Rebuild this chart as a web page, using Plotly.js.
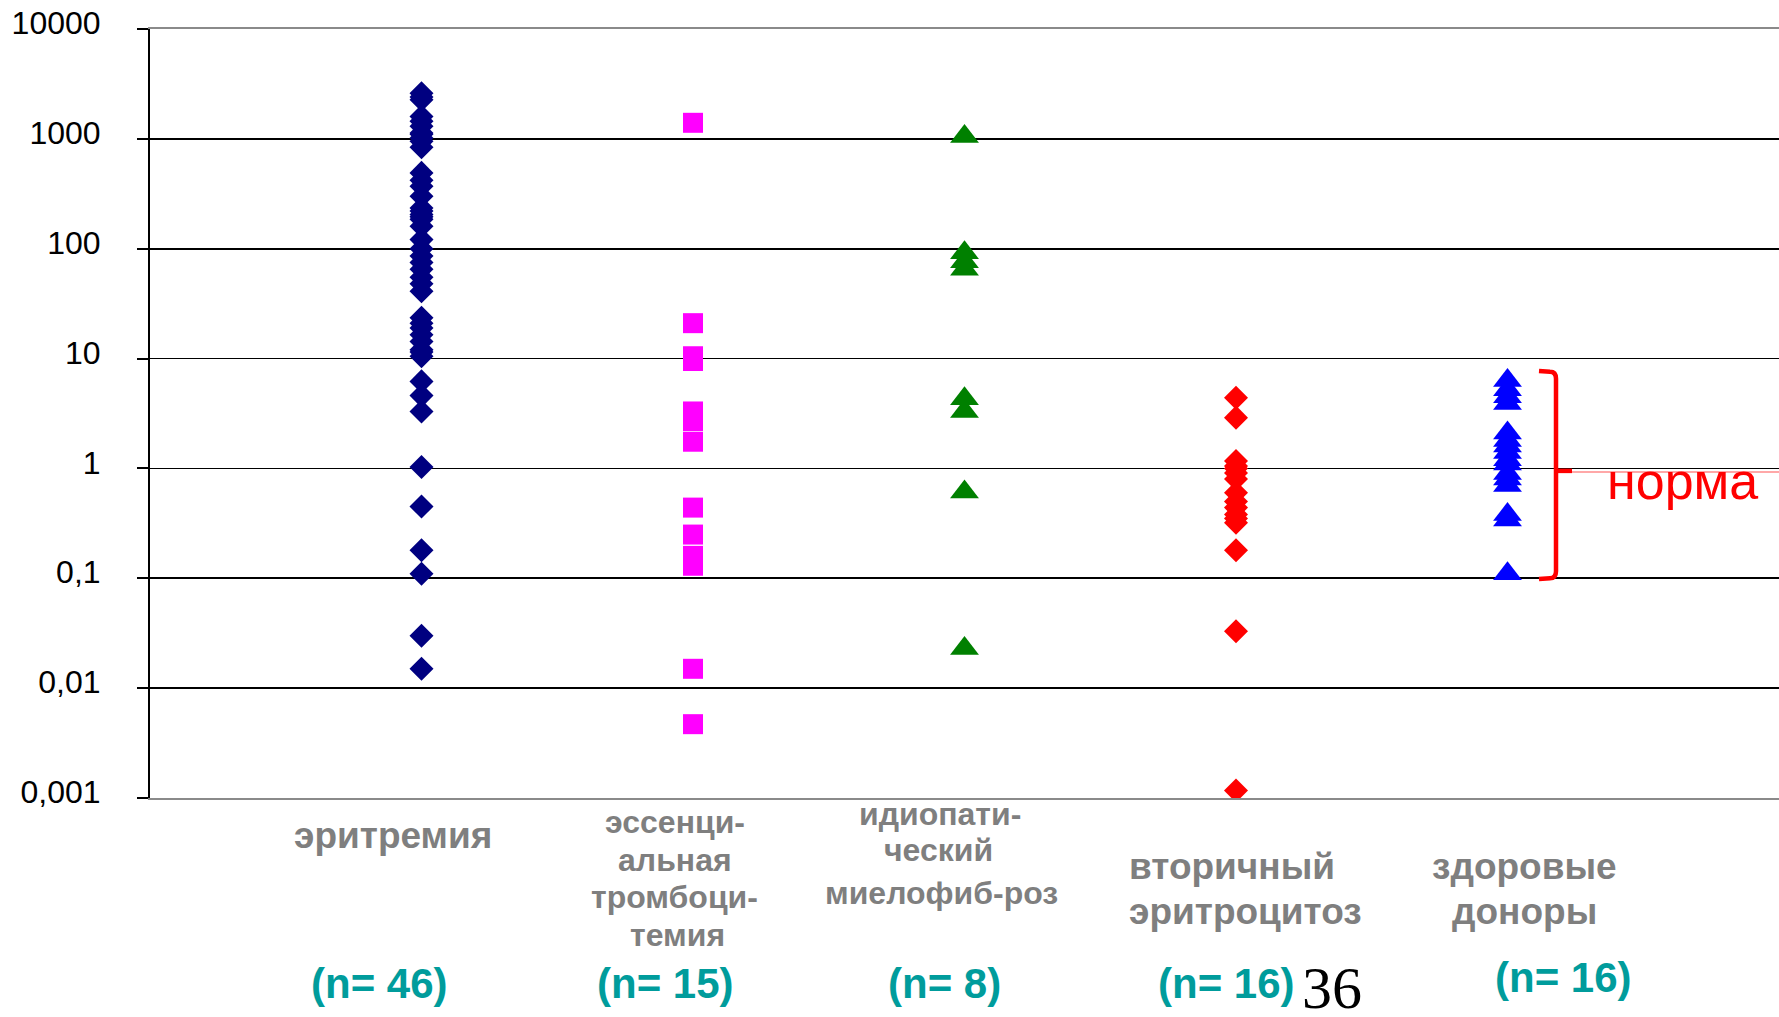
<!DOCTYPE html>
<html>
<head>
<meta charset="utf-8">
<script src="https://cdn.plot.ly/plotly-3.0.1.min.js"></script>
<style>html,body{margin:0;padding:0;background:#fff;}#chart{width:1779px;height:1017px;}</style>
</head>
<body>
<div id="chart"></div>
<script>
// ---------- DATA ----------
const categories = ["эритремия", "эссенциальная тромбоцитемия", "идиопатический миелофиброз", "вторичный эритроцитоз", "здоровые доноры"];
const erythremia = [2600, 2400, 2270, 1600, 1450, 1300, 1130, 1100, 1020, 950, 840, 490, 420, 370, 300, 235, 220, 205, 195, 185, 160, 121, 100, 86, 75, 65, 55, 48, 41, 23.5, 21, 19, 16.5, 14.3, 12, 11.5, 10.5, 6.2, 4.6, 3.3, 1.03, 0.45, 0.18, 0.11, 0.03, 0.015];
const thrombocythemia = [1400, 21, 10.5, 9.5, 3.3, 3.0, 2.7, 1.75, 0.44, 0.25, 0.16, 0.14, 0.13, 0.015, 0.0047];
const myelofibrosis = [1050, 92, 76, 65, 4.3, 3.3, 0.61, 0.023];
const secondaryErythrocytosis = [4.4, 2.9, 1.17, 1.05, 1.0, 0.91, 0.8, 0.6, 0.5, 0.44, 0.38, 0.35, 0.32, 0.18, 0.033, 0.00117];
const healthyDonors = [6.3, 5.2, 4.5, 3.9, 2.1, 1.8, 1.6, 1.4, 1.2, 1.1, 0.9, 0.8, 0.7, 0.38, 0.34, 0.11];
const tickVals = [0.001, 0.01, 0.1, 1, 10, 100, 1000, 10000];
const tickText = ["0,001", "0,01", "0,1", "1", "10", "100", "1000", "10000"];
const labelLines = [["эритремия"], ["эссенци-", "альная", "тромбоци-", "темия"], ["идиопати-", "ческий", "миелофиб-роз"], ["вторичный", "эритроцитоз"], ["здоровые", "доноры"]];
const nLabels = ["(n= 46)", "(n= 15)", "(n= 8)", "(n= 16)", "(n= 16)"];
const normRange = [0.1, 7.6];
const normMid = 0.95;
const normText = "норма";
const pageNumber = "36";

// ---------- LAYOUT GEOMETRY ----------
const W = 1779, H = 1017;
const M = {l: 150, r: 0, t: 29, b: 219};
const plotW = W - M.l - M.r, plotH = H - M.t - M.b;
const px2paperX = p => (p - M.l) / plotW;
const px2paperY = p => (H - M.b - p) / plotH;
const yRange = [-3, 4];
const val2paperY = v => (Math.log10(v) - yRange[0]) / (yRange[1] - yRange[0]);

const seriesList = [
  {y: erythremia, color: "#000080", symbol: "diamond", size: 18.5},
  {y: thrombocythemia, color: "#FF00FF", symbol: "square", size: 20},
  {y: myelofibrosis, color: "#008000", symbol: "triangle-up", size: 25},
  {y: secondaryErythrocytosis, color: "#FF0000", symbol: "diamond", size: 18.5},
  {y: healthyDonors, color: "#0000FF", symbol: "triangle-up", size: 25}
];

const traces = seriesList.map((s, i) => ({
  type: "scatter",
  mode: "markers",
  name: categories[i],
  x: s.y.map(() => i + 1),
  y: s.y,
  marker: {color: s.color, symbol: s.symbol, size: s.size, line: {width: 0}},
  hoverinfo: "skip",
  showlegend: false
}));

// label positions (pixels) per category line
const labelPos = [
  {x: [393], y: [838], size: 37},
  {x: [675, 675, 674, 677], y: [825, 863, 900, 938], size: 32},
  {x: [940, 938, 941], y: [817, 853, 896], size: 32},
  {x: [1127, 1127], y: [870, 914], left: true, size: 37},
  {x: [1524, 1524], y: [870, 915], size: 37}
];
const nPos = {x: [379, 665, 944, 1226, 1563], y: [983, 983, 983, 983, 977]};

const annotations = [];
labelLines.forEach((lines, i) => {
  lines.forEach((t, j) => {
    const lp = labelPos[i];
    annotations.push({
      text: t, showarrow: false, xref: "paper", yref: "paper",
      x: px2paperX(lp.x[j]), y: px2paperY(lp.y[j] - 3),
      xanchor: lp.left ? "left" : "center", yanchor: "middle",
      font: {family: "Liberation Sans, Arial, sans-serif", size: lp.size, color: "#7f7f7f", weight: "bold"}
    });
  });
});
nLabels.forEach((t, i) => {
  annotations.push({
    text: t, showarrow: false, xref: "paper", yref: "paper",
    x: px2paperX(nPos.x[i]), y: px2paperY(nPos.y[i]),
    xanchor: "center", yanchor: "middle",
    font: {family: "Liberation Sans, Arial, sans-serif", size: 42, color: "#009C9C", weight: "bold"}
  });
});
annotations.push({
  text: normText, showarrow: false, xref: "paper", yref: "paper",
  x: px2paperX(1682), y: val2paperY(normMid) - 10 / plotH,
  xanchor: "center", yanchor: "middle",
  font: {family: "Liberation Sans, Arial, sans-serif", size: 52, color: "#FF0000"}
});
annotations.push({
  text: pageNumber, showarrow: false, xref: "paper", yref: "paper",
  x: px2paperX(1332), y: px2paperY(988),
  xanchor: "center", yanchor: "middle",
  font: {family: "Liberation Serif, Times New Roman, serif", size: 60, color: "#000000"}
});

// bracket
const bx = px2paperX(1556), bxl = px2paperX(1539), bxc = px2paperX(1550);
const yTop = val2paperY(normRange[1]), yBot = val2paperY(normRange[0]);
const dy = 7 / plotH;
const bracketPath = `M ${bxl},${yTop + 0.001} L ${bxc},${yTop} Q ${bx},${yTop} ${bx},${yTop - dy} L ${bx},${yBot + dy} Q ${bx},${yBot} ${bxc},${yBot} L ${bxl},${yBot - 0.001}`;
const yMid = val2paperY(normMid);
const shapes = [
  {type: "path", xref: "paper", yref: "paper", path: bracketPath, line: {color: "#FF0000", width: 4.5}},
  {type: "line", xref: "paper", yref: "paper", x0: bx, x1: px2paperX(1572), y0: yMid, y1: yMid, line: {color: "#FF0000", width: 4.5}},
  {type: "line", xref: "paper", yref: "paper", x0: px2paperX(1572), x1: 1, y0: yMid - 1 / plotH, y1: yMid - 1 / plotH, line: {color: "rgba(255,60,60,0.6)", width: 1.5}}
];

const layout = {
  width: W, height: H,
  margin: {l: M.l, r: M.r, t: M.t, b: M.b, pad: 0},
  paper_bgcolor: "#ffffff", plot_bgcolor: "#ffffff",
  showlegend: false,
  hovermode: false,
  xaxis: {
    range: [0, 6], showgrid: false, zeroline: false, showticklabels: false, ticks: "",
    showline: true, linecolor: "#8a8a8a", linewidth: 2, mirror: true, fixedrange: true
  },
  yaxis: {
    type: "log", range: yRange, tickvals: tickVals, ticktext: tickText,
    showgrid: true, gridcolor: "#000000", gridwidth: 1.6,
    showline: true, linecolor: "#000000", linewidth: 2,
    ticks: "outside", ticklen: 11, tickwidth: 2, tickcolor: "#000000",
    ticklabelstandoff: 30, ticklabelshift: -6,
    tickfont: {family: "Liberation Sans, Arial, sans-serif", size: 32, color: "#000000"},
    fixedrange: true
  },
  annotations: annotations,
  shapes: shapes
};

Plotly.newPlot("chart", traces, layout, {staticPlot: true, displayModeBar: false});
</script>
</body>
</html>
